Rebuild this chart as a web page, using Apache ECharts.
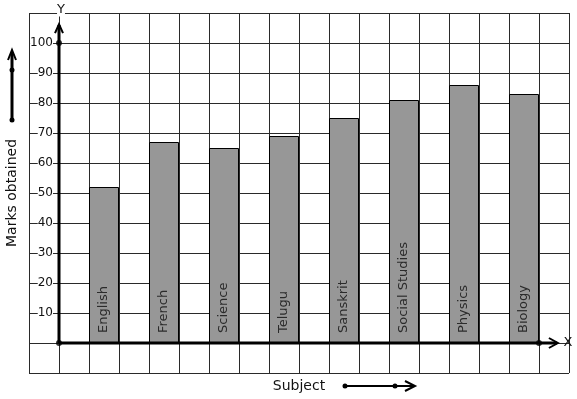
<!DOCTYPE html>
<html><head><meta charset="utf-8">
<script src="https://cdn.jsdelivr.net/npm/echarts@6/dist/echarts.min.js"></script>
<style>html,body{margin:0;padding:0;background:#fff}#c{width:577px;height:399px}</style>
</head><body><div id="c"></div>
<script>
const subjects = ['English','French','Science','Telugu','Sanskrit','Social Studies','Physics','Biology'];
const marks = [52, 67, 65, 69, 75, 81, 86, 83];
const yTickLabels = [10, 20, 30, 40, 50, 60, 70, 80, 90, 100];
const axisDots = [[0, 0], [0, 100], [16, 0]];

const F = 'DejaVu Sans';
const chart = echarts.init(document.getElementById('c'), null, {renderer: 'canvas'});

const barData = subjects.map((s, i) => ({name: s, value: [1.5 + 2 * i, marks[i]]}));
const G = {left: 29, top: 13, width: 540, height: 360};

chart.setOption({
  animation: false,
  backgroundColor: '#fff',
  grid: Object.assign({show: false, containLabel: false, outerBoundsMode: 'none'}, G),
  xAxis: {
    type: 'value', min: -1, max: 17, interval: 1,
    axisLine: {show: false},
    axisTick: {show: false},
    axisLabel: {show: false},
    splitLine: {show: true, lineStyle: {color: '#2a2a2a', width: 1}},
    name: 'Subject', nameLocation: 'middle', nameGap: 36,
    nameTextStyle: {fontFamily: F, fontSize: 14, color: '#111'}
  },
  yAxis: {
    type: 'value', min: -10, max: 110, interval: 10,
    axisLine: {show: false},
    axisTick: {show: false},
    axisLabel: {
      margin: 6, fontFamily: F, fontSize: 12, color: '#111',
      backgroundColor: '#fff',
      formatter: v => yTickLabels.indexOf(v) >= 0 ? String(v) : ''
    },
    splitLine: {show: true, lineStyle: {color: '#2a2a2a', width: 1}},
    name: 'Marks obtained', nameLocation: 'middle', nameGap: 40, nameRotate: 90,
    nameTextStyle: {fontFamily: F, fontSize: 14, color: '#111'}
  },
  series: [
    {
      type: 'bar', data: barData, barWidth: 30,
      itemStyle: {color: '#979797', borderColor: '#000', borderWidth: 1},
      label: {
        show: true, position: 'insideBottom', rotate: 90, distance: 10,
        align: 'left', verticalAlign: 'middle',
        formatter: p => p.name,
        fontFamily: F, fontSize: 13, color: '#2b2b2b'
      },
      z: 3
    },
    {
      type: 'scatter', data: axisDots, symbolSize: 6,
      itemStyle: {color: '#000'}, z: 6, silent: true
    }
  ]
});

function px(v) { return chart.convertToPixel({gridIndex: 0}, v); }
const o = px([0, 0]);
const yTop = px([0, 106.3]);
const xEnd = px([16.63, 0]);
// move the axes (labels and names) onto the zero lines
chart.setOption({
  xAxis: {offset: -(G.top + G.height - o[1])},
  yAxis: {offset: -(o[0] - G.left)}
});
const ln = (pts, w) => ({type: 'polyline', shape: {points: pts}, style: {stroke: '#000', lineWidth: w, fill: null}, z: 5});
chart.setOption({
  graphic: [
    ln([o, [yTop[0], yTop[1] + 1]], 3),
    ln([[yTop[0] - 4, yTop[1] + 9], yTop, [yTop[0] + 4, yTop[1] + 9]], 2),
    ln([o, [xEnd[0] - 1, xEnd[1]]], 3),
    ln([[xEnd[0] - 9, xEnd[1] - 5], xEnd, [xEnd[0] - 9, xEnd[1] + 5]], 2),
    {type: 'text', x: yTop[0] + 2, y: 10, style: {text: 'Y', fontFamily: F, fontSize: 13, fill: '#111', align: 'center', verticalAlign: 'middle', backgroundColor: '#fff'}, z: 6},
    {type: 'text', x: xEnd[0] + 10, y: xEnd[1], style: {text: 'X', fontFamily: F, fontSize: 13, fill: '#111', align: 'center', verticalAlign: 'middle'}, z: 6},
    ln([[12, 120], [12, 52]], 3),
    ln([[8, 60], [12, 50], [16, 60]], 2),
    {type: 'circle', shape: {cx: 12, cy: 120, r: 2.5}, style: {fill: '#000'}, z: 6},
    {type: 'circle', shape: {cx: 12, cy: 70, r: 2.5}, style: {fill: '#000'}, z: 6},
    ln([[345, 386], [413, 386]], 2),
    ln([[405, 381], [415, 386], [405, 391]], 2),
    {type: 'circle', shape: {cx: 345, cy: 386, r: 2.5}, style: {fill: '#000'}, z: 6},
    {type: 'circle', shape: {cx: 395, cy: 386, r: 2.5}, style: {fill: '#000'}, z: 6}
  ]
});
</script></body></html>
